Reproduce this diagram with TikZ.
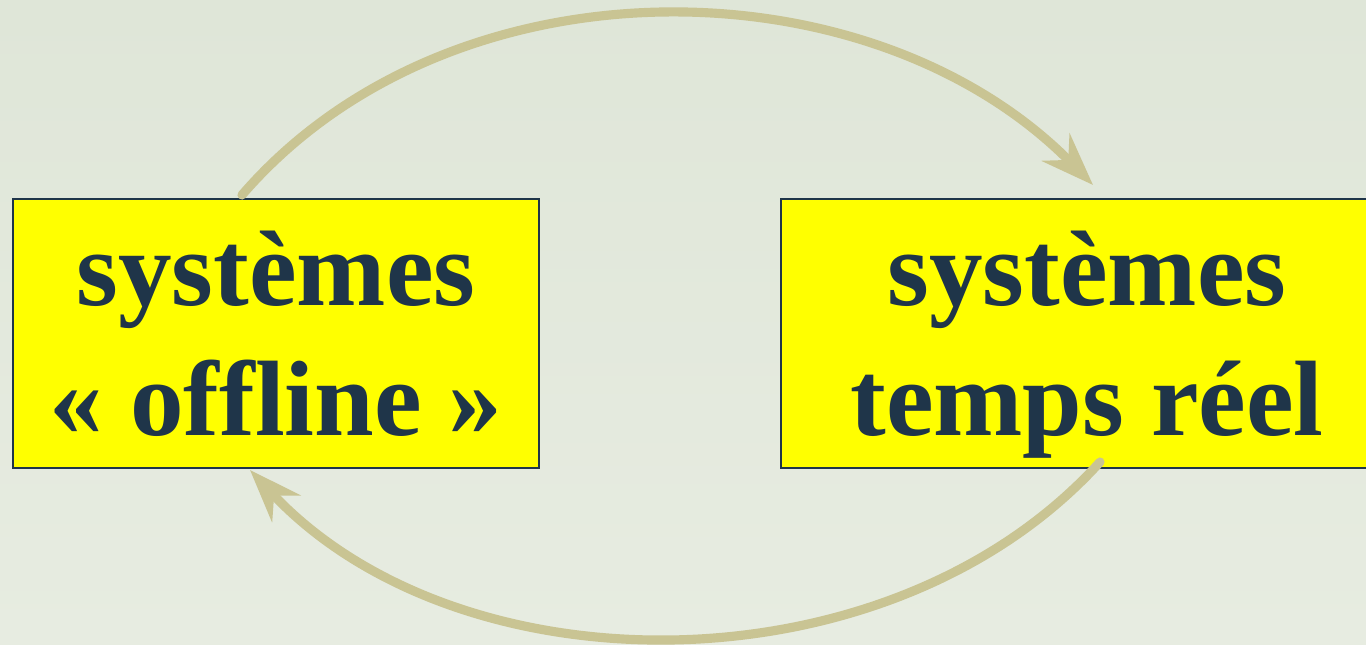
\documentclass[tikz,border=0pt]{standalone}
\usepackage{fontspec}
\setmainfont{Liberation Serif}
\usetikzlibrary{arrows.meta}
\definecolor{bgtop}{HTML}{DFE6D8}
\definecolor{bgbot}{HTML}{E7ECE1}
\definecolor{arrowc}{HTML}{C9C493}
\definecolor{navy}{HTML}{1F3549}
\definecolor{boxyellow}{HTML}{FFFF00}
\tikzset{
  sysbox/.style={draw=navy, line width=0.7pt, fill=boxyellow, text=navy,
    font=\fontsize{30.5}{37}\selectfont\bfseries, align=center,
    minimum height=2.69cm, inner sep=0pt, text depth=0pt},
  cyc/.style={draw=arrowc, line width=2.6pt, line cap=round,
    -{Stealth[length=15pt, width=11pt, inset=5pt]}}
}
\begin{document}
\begin{tikzpicture}
\useasboundingbox (0,0) rectangle (13.66,6.44);
\shade[top color=bgtop, bottom color=bgbot] (0,0) rectangle (13.66,6.44);
\node[sysbox, minimum width=5.26cm] (off) at (2.76,3.105) {systèmes\\« offline »};
\node[sysbox, minimum width=6.12cm] (rt) at (10.87,3.105) {systèmes\\temps réel};
\coordinate (a1) at (2.42,4.49);
\coordinate (a2) at (10.93,4.59);
\coordinate (b1) at (11.0,1.82);
\coordinate (b2) at (2.50,1.74);
\draw[cyc] (a1) .. controls (4.5,6.9) and (8.7,6.85) .. (a2);
\draw[cyc] (b1) .. controls (8.9,-0.5) and (4.6,-0.5) .. (b2);
\end{tikzpicture}
\end{document}
